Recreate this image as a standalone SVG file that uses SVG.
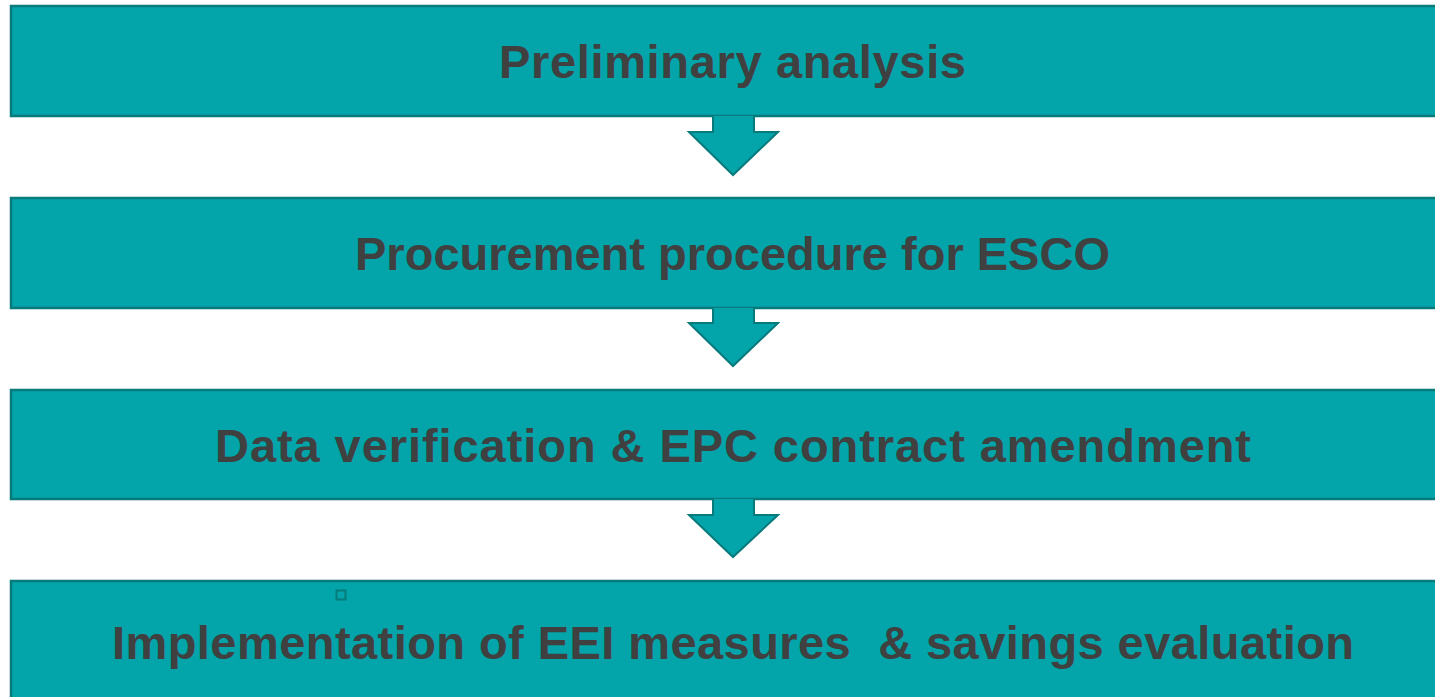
<svg xmlns="http://www.w3.org/2000/svg" width="1435" height="697" viewBox="0 0 1435 697">
<style>
.box{fill:#03A4AA;stroke:#077A7C;stroke-width:2.5}
.arr{fill:#03A4AA;stroke:#077A7C;stroke-width:2;stroke-linejoin:miter}
.t{font-family:"Liberation Sans",Arial,sans-serif;font-weight:bold;font-size:47px;fill:#404040;text-anchor:middle;white-space:pre}
</style>
<rect width="1435" height="697" fill="#ffffff"/>
<g id="node1"><rect class="box" x="11" y="6" width="1440" height="110"/><text class="t" x="732.5" y="78" textLength="467" lengthAdjust="spacing">Preliminary analysis</text></g>
<g id="node2"><rect class="box" x="11" y="198" width="1440" height="110"/><text class="t" x="732.5" y="270" textLength="755" lengthAdjust="spacing">Procurement procedure for ESCO</text></g>
<g id="node3"><rect class="box" x="11" y="390" width="1440" height="109"/><text class="t" x="733" y="462" textLength="1036" lengthAdjust="spacing">Data verification &amp; EPC contract amendment</text></g>
<g id="node4"><rect class="box" x="11" y="581" width="1440" height="130"/><rect x="336.5" y="590.5" width="9" height="9" fill="none" stroke="#077A7C" stroke-width="2"/><text class="t" x="733" y="659" textLength="1242" lengthAdjust="spacing" xml:space="preserve">Implementation of EEI measures  &amp; savings evaluation</text></g>
<g id="connectors">
<path class="arr" d="M713,116 V132 H689 L733,175 L778,132 H754 V116"/>
<path class="arr" d="M713,308 V323 H689 L733,366 L778,323 H754 V308"/>
<path class="arr" d="M713,499 V515 H689 L733,557 L778,515 H754 V499"/>
</g>
</svg>
